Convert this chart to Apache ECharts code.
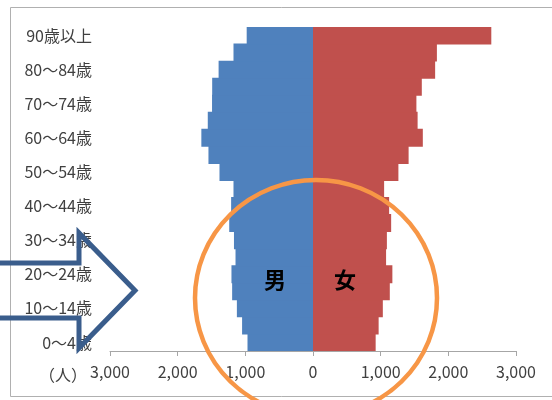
<!DOCTYPE html>
<html>
<head>
<meta charset="utf-8">
<script src="https://cdn.jsdelivr.net/npm/echarts@6/dist/echarts.min.js"></script>
<style>
html,body{margin:0;padding:0;background:#fff;}
#chart{width:552px;height:400px;}
</style>
</head>
<body>
<div id="chart"></div>
<script>
// categories from youngest (bottom) to oldest (top)
const ageGroups = ['0〜4歳','5〜9歳','10〜14歳','15〜19歳','20〜24歳','25〜29歳','30〜34歳','35〜39歳','40〜44歳','45〜49歳','50〜54歳','55〜59歳','60〜64歳','65〜69歳','70〜74歳','75〜79歳','80〜84歳','85〜89歳','90歳以上'];
const maleValues = [968, 1048, 1125, 1195, 1205, 1145, 1168, 1238, 1210, 1175, 1382, 1545, 1650, 1555, 1492, 1490, 1395, 1175, 980];
const femaleValues = [926, 970, 1032, 1135, 1173, 1080, 1092, 1155, 1125, 1051, 1262, 1413, 1623, 1546, 1528, 1608, 1805, 1831, 2635];
const axisMin = -3000, axisMax = 3000, axisStep = 1000;
const unitLabel = '（人）';
const maleLabel = '男', femaleLabel = '女';

const font = '"Noto Sans CJK JP", "Noto Sans", sans-serif';
const maleColor = '#4F81BD', femaleColor = '#C0504D';
const chart = echarts.init(document.getElementById('chart'), null, {renderer: 'canvas'});
chart.setOption({
  animation: false,
  backgroundColor: '#fff',
  grid: {left: 110, right: 36, top: 27, bottom: 49, containLabel: false},
  xAxis: {
    type: 'value', min: axisMin, max: axisMax, interval: axisStep,
    axisLine: {show: true, onZero: false, lineStyle: {color: '#A6A6A6', width: 1}},
    axisTick: {show: true, length: 5, lineStyle: {color: '#A6A6A6'}},
    splitLine: {show: false},
    axisLabel: {
      margin: 13, color: '#404040', fontSize: 16, fontFamily: font,
      formatter: v => Math.abs(v).toLocaleString('en-US')
    }
  },
  yAxis: {
    type: 'category', data: ageGroups,
    axisLine: {show: false}, axisTick: {show: false},
    axisLabel: {interval: 1, margin: 18, color: '#404040', fontSize: 16, fontFamily: font}
  },
  series: [
    {name: maleLabel, type: 'bar', stack: 'p', barWidth: 18,
     itemStyle: {color: maleColor}, data: maleValues.map(v => -v)},
    {name: femaleLabel, type: 'bar', stack: 'p', barWidth: 18,
     itemStyle: {color: femaleColor}, data: femaleValues}
  ],
  graphic: [
    {type: 'line', z: 50, shape: {x1: 10.5, y1: 7.5, x2: 552, y2: 7.5}, style: {stroke: '#B0B0B0', lineWidth: 1}},
    {type: 'line', z: 50, shape: {x1: 10.5, y1: 7.5, x2: 10.5, y2: 396.5}, style: {stroke: '#B0B0B0', lineWidth: 1}},
    {type: 'line', z: 50, shape: {x1: 10.5, y1: 396.5, x2: 552, y2: 396.5}, style: {stroke: '#B0B0B0', lineWidth: 1}},
    {type: 'text', z: 50, x: 87, y: 375, style: {text: unitLabel, font: '16px ' + font, fill: '#404040', textAlign: 'right', textVerticalAlign: 'middle'}},
    {type: 'text', z: 60, x: 275, y: 280, style: {text: maleLabel, font: 'bold 22px ' + font, fill: '#000', textAlign: 'center', textVerticalAlign: 'middle'}},
    {type: 'text', z: 60, x: 345, y: 280, style: {text: femaleLabel, font: 'bold 22px ' + font, fill: '#000', textAlign: 'center', textVerticalAlign: 'middle'}},
    {type: 'circle', z: 100, x: 316, y: 298, scaleY: 118/121,
     shape: {cx: 0, cy: 0, r: 121}, style: {fill: null, stroke: '#F79646', lineWidth: 4.5}},
    {type: 'polyline', z: 100,
     shape: {points: [[-10, 263], [79, 263], [79, 233], [135, 290.5], [79, 348], [79, 318], [-10, 318]]},
     style: {fill: null, stroke: '#3A5D8C', lineWidth: 5, lineJoin: 'miter'}}
  ]
});
</script>
</body>
</html>
